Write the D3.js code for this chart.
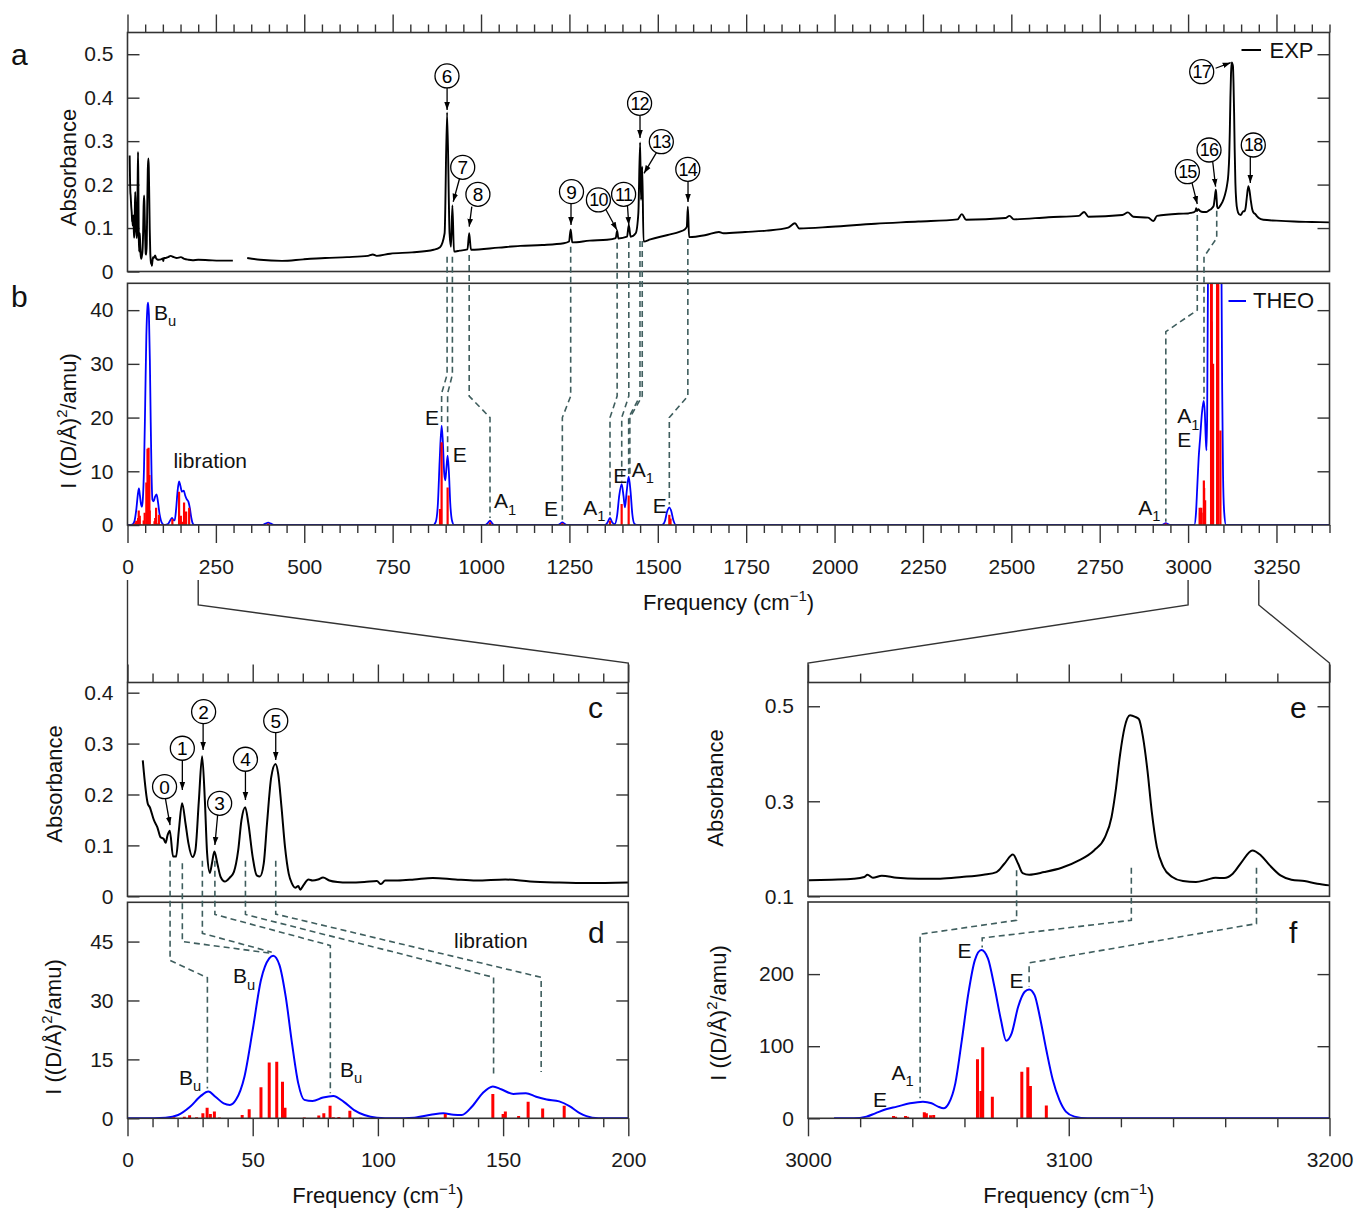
<!DOCTYPE html>
<html>
<head>
<meta charset="utf-8">
<script src="https://cdn.jsdelivr.net/npm/d3@7"></script>
<style>
html,body{margin:0;padding:0;background:#fff;}
svg{display:block;}
</style>
</head>
<body>
<svg id="chart" width="1359" height="1209"></svg>
<script>
// ================= DATA =================
// Experimental absorbance spectrum [frequency cm-1, absorbance]
const expLowRegion = [[6.1,0.267],[8.1,0.182],[8.9,0.175],[10.6,0.149],[11.9,0.136],[13.2,0.116],[14.4,0.113],[15.2,0.105],[16.0,0.12],[16.9,0.129],[18.2,0.078],[19.4,0.078],[20.5,0.129],[21.8,0.183],[23.2,0.142],[24.3,0.105],[26.0,0.077],[27.1,0.09],[28.5,0.188],[29.8,0.275],[30.9,0.188],[31.8,0.084],[32.9,0.046],[33.7,0.064],[34.7,0.088],[35.9,0.064],[37.2,0.038],[38.9,0.029],[40.9,0.037],[42.5,0.048],[44.2,0.09],[45.5,0.149],[47.0,0.175],[48.3,0.142],[50.0,0.077],[51.6,0.041],[52.9,0.039],[54.4,0.064],[55.7,0.142],[57.4,0.234],[59.1,0.26],[60.2,0.24],[61.5,0.175],[62.9,0.097],[64.4,0.044],[65.7,0.025],[67.0,0.017],[68.2,0.02],[69.0,0.013],[70.3,0.022],[72.3,0.033],[73.9,0.031],[76.1,0.033],[78.1,0.037],[80.6,0.031],[83.9,0.028],[88.0,0.027],[94.6,0.028],[99.6,0.030],[101.2,0.024],[102.9,0.031],[107.9,0.031],[114.5,0.033],[121.9,0.036],[131.0,0.033],[139.3,0.031],[150.9,0.033],[160.8,0.029],[172.4,0.027],[184.0,0.026],[200,0.027]];
const expMidRegion = [[230,0.026],[260,0.025],[298,0.025],[318,null],[338.6,0.031],[375,0.027],[437,0.0245],[498,0.028],[559,0.031],[621,0.033],[680,0.036],[694,0.039],[705,0.036],[743,0.041],[805,0.044],[866,0.050],[884,0.056],[897,0.088],[904,0.366],[911,0.088],[915,0.057],[919,0.152],[923.5,0.046],[939.6,0.048],[961.6,0.051],[966.5,0.088],[971.5,0.050],[1050,0.055],[1111,0.059],[1173,0.061],[1234,0.065],[1249,0.069],[1253.6,0.097],[1258,0.067],[1307.6,0.071],[1356.6,0.073],[1381,0.077],[1385,0.094],[1388.5,0.076],[1413,0.080],[1418,0.107],[1423,0.080],[1437.5,0.088],[1445,0.134],[1450,0.297],[1452.5,0.165],[1456,0.241],[1459.6,0.069],[1479,0.074],[1528,0.084],[1563,0.092],[1575,0.096],[1582,0.103],[1585,0.149],[1588.5,0.079],[1636,0.084],[1673,0.091],[1685.6,0.088],[1747,0.091],[1808,0.094],[1869,0.101],[1888,0.111],[1900,0.099],[1992,0.103],[2115,0.110],[2237,0.115],[2348,0.120],[2360,0.132],[2372,0.119],[2483,0.123],[2495,0.128],[2507,0.120],[2605,0.125],[2691,0.128],[2706,0.137],[2718,0.126],[2814,0.130],[2830,0.136],[2845,0.126],[2887,0.124],[2902,0.116],[2912,0.128],[2973,0.133]];
const expHighRegion = [[3000.3,0.1336],[3009.1,0.135],[3017.5,0.137],[3021.6,0.1406],[3022.8,0.1455],[3024.9,0.139],[3028.3,0.1434],[3034.1,0.139],[3042.4,0.137],[3050.7,0.137],[3059,0.1406],[3067.3,0.1455],[3072.3,0.151],[3075.3,0.1685],[3078.6,0.188],[3080.6,0.1685],[3082.3,0.149],[3084.8,0.1455],[3090.6,0.151],[3097.3,0.160],[3103.9,0.1755],[3109.7,0.1965],[3113.9,0.2245],[3116.4,0.2664],[3118,0.3224],[3119.7,0.399],[3121.4,0.455],[3123.5,0.481],[3125.5,0.4776],[3126.9,0.4727],[3128.5,0.434],[3130.2,0.364],[3131.8,0.280],[3133.8,0.2035],[3136.3,0.1615],[3139.7,0.1406],[3143.8,0.132],[3148.8,0.130],[3153,0.135],[3156.3,0.139],[3159.6,0.1385],[3162.9,0.1476],[3166.3,0.172],[3170.4,0.1965],[3173.7,0.186],[3177.1,0.165],[3181.2,0.144],[3185.4,0.135],[3190.4,0.132],[3195.3,0.1266],[3200,0.123]];
const expTailRegion = [[3213,0.119],[3250,0.117],[3300,0.115],[3350,0.114],[3400,0.113]];

// Theoretical broadened spectrum [frequency, intensity (D/Å)^2/amu]
const theoLowRegion = [[0,0],[10.3,0.03],[15.2,0.15],[20.2,0.85],[25.1,3.0],[29.3,5.7],[32.3,6.8],[35.1,5.5],[38.4,3.8],[40.9,3.4],[43.3,4.7],[46.7,10.6],[50,22.5],[53.3,35.2],[56.6,40.7],[58.2,41.4],[60.7,39],[63.2,30.9],[65.7,19.1],[68.2,8.9],[70.6,4.7],[73.9,4.4],[78.1,5.3],[82.2,5.7],[86.4,4.2],[90.5,2.1],[94.6,0.85],[99.6,0.17],[106.2,0],[114.5,0.17],[121.1,0.9],[126.1,1.3],[130.2,0.9],[133.5,0.85],[137.6,3],[141.8,6.4],[145.9,8.1],[149.2,7.4],[154.1,6.2],[159.1,6.4],[163.2,5.5],[167.4,4.8],[172.4,4.3],[176.5,3.1],[180.6,1.3],[185.6,0.17],[190.6,0],[200,0]];
const theoMidRegion = [[380,0],[390,0.25],[398,0.45],[406,0.25],[416,0],[864,0],[872,0.6],[878,4],[883,12],[888.5,18.5],[892,15.5],[896,9.5],[899,8.3],[902,10.5],[905.5,12.9],[909,10],[913,4],[918,0.8],[924,0],[1012,0],[1019,0.35],[1025.4,0.8],[1031,0.35],[1038,0],[1217,0],[1224,0.25],[1230,0.5],[1236,0.25],[1243,0],[1350,0],[1358,0.5],[1364.8,1.3],[1371,0.5],[1378,0.15],[1385,1.8],[1391,5.5],[1397.8,7.6],[1403,5.4],[1407,3.3],[1412,6.2],[1417.6,9.0],[1423,6.2],[1428,2],[1434,0.2],[1440,0],[1512,0],[1520,0.7],[1526,2.4],[1532.6,3.3],[1538,2.6],[1544,0.9],[1552,0],[2925,0],[2931,0.15],[2937,0.35],[2943,0.15],[2950,0]];
const theoHighRegion = [[3010,0],[3017.5,0],[3022.4,2.3],[3025.8,6.9],[3029.9,12.5],[3034.1,16.2],[3039.1,20.8],[3044.1,23.1],[3047.4,20.8],[3049.9,16.2],[3052,13.9],[3054,20.8],[3056.5,48.5],[3059,108.5],[3061.5,173.2],[3064,219.4],[3066.5,233.3],[3069,221.7],[3071.5,182.4],[3074,136.3],[3076,107.6],[3078.1,117.8],[3080.6,154.7],[3083.1,175.5],[3084.8,178.8],[3086.9,170.9],[3088.9,140.9],[3091.4,94.7],[3093.9,53.1],[3096.4,25.4],[3098.9,9.2],[3102.2,2.3],[3107.2,0],[3200,0],[3400,0]];

// Calculated normal modes (stick spectrum) [frequency, intensity]
const stickModes = [[18.5,0.25],[22.7,0.4],[24.8,0.8],[27.6,0.25],[30.1,1.3],[31.8,2.7],[33.1,1.1],[34.7,1.7],[36.7,0.2],[45.8,0.85],[48.6,2.3],[53.3,7.9],[56.6,14.2],[59.6,14.4],[61.9,9.3],[62.9,2.7],[70.6,0.2],[76.4,0.7],[78.4,1.3],[80.9,3.2],[82.2,0.25],[84.4,0.3],[88.8,1.9],[93,0.15],[96.3,0.1],[106.2,0.1],[126.9,1.1],[145.9,6.2],[150,1.1],[150.9,1.7],[156.2,0.6],[160,4.2],[165.8,2.5],[174.4,3.2],[398,0.3],[884,3],[888.5,15.4],[905.5,7.0],[1025.4,0.5],[1230,0.35],[1364.8,0.8],[1397.8,3.9],[1417.6,5.5],[1532.6,1.9],[1536,1.2],[2937,0.3],[3032.8,3.2],[3033.6,2.3],[3037.4,3.2],[3038.2,2.3],[3044.6,8.3],[3045.4,6.9],[3047,4.2],[3048.2,4.6],[3065,81.8],[3066.3,37.9],[3067,98.4],[3070.7,30],[3082,64.7],[3084.3,70.7],[3085.3,44.8],[3091.4,17.6]];

// Tick values / labels
const freqMajorFull = [0,250,500,750,1000,1250,1500,1750,2000,2250,2500,2750,3000,3250];
const freqMajorLow = [0,50,100,150,200];
const freqMajorHigh = [3000,3100,3200];
const absTicksA = [0,0.1,0.2,0.3,0.4,0.5];
const intTicksB = [0,10,20,30,40];
const absTicksC = [0,0.1,0.2,0.3,0.4];
const intTicksD = [0,15,30,45];
const absTicksE = [0.1,0.3,0.5];
const intTicksF = [0,100,200];

// Peak annotations: [label, circle freq, circle value, arrow start freq, value, arrow end freq, value]
const peakMarksA = [
 ['6',903.7,0.450,904,0.4223,904,0.3717],
 ['7',948.2,0.2398,939.7,0.2152,921.3,0.1606],
 ['8',991.2,0.1777,973.9,0.1491,966.5,0.1031],
 ['9',1255.9,0.1837,1254.5,0.1577,1254.5,0.107],
 ['10',1332,0.1646,1350.7,0.1461,1384.6,0.0955],
 ['11',1403.3,0.1777,1414.3,0.1507,1418,0.107],
 ['12',1448.5,0.3871,1449.7,0.3579,1449.7,0.3072],
 ['13',1510,0.2987,1497.8,0.2757,1461,0.226],
 ['14',1584.9,0.2352,1585.5,0.2083,1585.5,0.16],
 ['15',2998,0.2297,3010.2,0.2067,3026,0.1553],
 ['16',3059.2,0.2796,3069.1,0.2566,3077.8,0.1952],
 ['17',3038.5,0.4598,3077.8,0.4677,3120.5,0.4805],
 ['18',3184.4,0.2911,3176,0.2635,3176,0.2037]
];
const peakMarksC = [
 ['0',14.8,0.2153,15,0.1957,17,0.14],
 ['1',21.9,0.2908,21.9,0.2678,21.9,0.2089],
 ['2',30.4,0.3627,30.2,0.3385,30.2,0.2874],
 ['3',36.8,0.1827,36,0.1597,34.9,0.1008],
 ['4',47.1,0.2692,47.1,0.2462,47.1,0.1892],
 ['5',59.2,0.345,59.2,0.3208,59.2,0.2678]
];
// Mode symmetry labels: [main, subscript, freq, value]
const modeLabelsB = [['B','u',75,38.2],['E','',841.5,18.6],['E','',919.9,11.8],['A','1',1036.7,3.1],['E','',1178,1.68],['A','1',1289,1.86],['E','',1374,7.9],['A','1',1426,9.0],['E','',1485.6,2.2],['A','1',2859,1.86],['A','1',2969.5,18.9],['E','',2969.5,14.6]];
const modeLabelsD = [['B','u',20.6,8.5],['B','u',42.1,34.4],['B','u',84.9,10.6]];
const modeLabelsF = [['E','',3024.9,16.1],['A','1',3032,53],['E','',3057.3,221.9],['E','',3077.3,180.3]];

// Assignment links (dashed): sequences of [freq, panel, value]
const linksTop = [
 [[904,'a',0.034],[904,'b',28],[888.5,'b',24.5],[888.5,'b',19.2]],
 [[919,'a',0.034],[919,'b',28],[905.5,'b',24.5],[905.5,'b',13.6]],
 [[966.5,'a',0.038],[966.5,'b',24],[1025.4,'b',20],[1025.4,'b',1.3]],
 [[1253.6,'a',0.057],[1253.6,'b',24],[1230,'b',20],[1230,'b',1.0]],
 [[1385,'a',0.066],[1385,'b',24],[1364.8,'b',20],[1364.8,'b',1.8]],
 [[1418,'a',0.068],[1418,'b',24],[1398,'b',20],[1398,'b',8.1]],
 [[1449.6,'a',0.07],[1449.6,'b',24],[1417.6,'b',20],[1417.6,'b',9.5]],
 [[1456,'a',0.07],[1456,'b',24],[1421,'b',20],[1421,'b',9.2]],
 [[1585,'a',0.075],[1585,'b',24],[1532.6,'b',20],[1532.6,'b',3.8]],
 [[3026,'a',0.13],[3026,'b',40],[2937,'b',36],[2937,'b',0.6]],
 [[3081,'a',0.14],[3081,'a',0.077],[3045,'a',0.034],[3045,'b',23.4]]
];
const linksLow = [
 [[17,'c',0.07],[17,'d',40.2],[31.9,'d',35.8],[31.9,'d',7.6]],
 [[21.9,'c',0.065],[21.9,'d',45],[57.6,'d',42]],
 [[29.9,'c',0.07],[29.9,'d',47.1],[57.6,'d',42.3]],
 [[34.9,'c',0.07],[34.9,'d',51.9],[81,'d',44],[81,'d',6.4]],
 [[47.1,'c',0.07],[47.1,'d',51.9],[146.2,'d',35.9],[146.2,'d',11]],
 [[59.2,'c',0.07],[59.2,'d',52],[165.2,'d',35.9],[165.2,'d',11.8]]
];
const linksHigh = [
 [[3080,'e',0.155],[3080,'f',274.7],[3043,'f',255.3],[3043,'f',27.7]],
 [[3124,'e',0.16],[3124,'f',274.7],[3066.8,'f',250],[3066.8,'f',236.8]],
 [[3172,'e',0.16],[3172,'f',270],[3084.8,'f',215.5],[3084.8,'f',182.3]]
];

// ================= LAYOUT =================
const FONT = "'Liberation Sans', Arial, Helvetica, sans-serif";
const AX = '#333';
const BLUE = '#0000ff', RED = '#ff0000', DASH = '#3f5e5e';
const P = {
 a:{x0:127.5,x1:1329.5,y0:32.5,y1:271.5,xd:[0,3400],yd:[0,0.55]},
 b:{x0:127.5,x1:1329.5,y0:283.3,y1:525,xd:[0,3400],yd:[0,45]},
 c:{x0:127.5,x1:628.3,y0:682.5,y1:896.3,xd:[0,200],yd:[0,0.42]},
 d:{x0:127.5,x1:628.3,y0:902.3,y1:1118.3,xd:[0,200],yd:[0,55]},
 e:{x0:808,x1:1329.5,y0:682.5,y1:896.3,xd:[3000,3200],yd:[0.1,0.55]},
 f:{x0:808,x1:1329.5,y0:902,y1:1118.3,xd:[3000,3200],yd:[0,300]}
};
Object.values(P).forEach(p=>{
 p.x = d3.scaleLinear().domain(p.xd).range([p.x0,p.x1]);
 p.y = d3.scaleLinear().domain(p.yd).range([p.y1,p.y0]);
});

const svg = d3.select('#chart');
svg.append('rect').attr('width',1359).attr('height',1209).attr('fill','#fff');
const defs = svg.append('defs');
Object.entries(P).forEach(([k,p])=>{
 defs.append('clipPath').attr('id','clip-'+k).append('rect')
  .attr('x',p.x0).attr('y',p.y0).attr('width',p.x1-p.x0).attr('height',p.y1-p.y0);
});
defs.append('marker').attr('id','arrow').attr('viewBox','0 0 10 10')
 .attr('refX',10).attr('refY',5).attr('markerWidth',8).attr('markerHeight',8)
 .attr('markerUnits','userSpaceOnUse').attr('orient','auto')
 .append('path').attr('d','M0,1.5 L10,5 L0,8.5 Z').attr('fill','#000');

// ---- helpers ----
function richText(sel, parts, size){
 let off = 0;
 parts.forEach(([s,kind])=>{
  const ts = sel.append('tspan').text(s);
  let target = 0;
  if(kind==='sup'){ target = -0.42*size; ts.attr('font-size', size*0.68); }
  else if(kind==='sub'){ target = 0.3*size; ts.attr('font-size', size*0.7); }
  if(target-off!==0) ts.attr('dy', target-off);
  off = target;
 });
}
function axis(p, orient, vals, len, fmt, pad){
 const g = svg.append('g').attr('color',AX);
 let ax;
 if(orient==='top'){ax=d3.axisTop(p.x); g.attr('transform',`translate(0,${p.y0})`);}
 if(orient==='bottom'){ax=d3.axisBottom(p.x); g.attr('transform',`translate(0,${p.y1})`);}
 if(orient==='left'){ax=d3.axisLeft(p.y); g.attr('transform',`translate(${p.x0},0)`);}
 if(orient==='right'){ax=d3.axisRight(p.y); g.attr('transform',`translate(${p.x1},0)`);}
 ax.tickValues(vals).tickSize(len).tickPadding(pad||0).tickFormat(fmt||(()=>''));
 g.call(ax);
 g.select('.domain').remove();
 g.selectAll('line').attr('stroke-width',1.4);
 g.selectAll('text').attr('font-size',21).attr('font-family',FONT).attr('fill','#1a1a1a');
 return g;
}
function frame(p){
 svg.append('rect').attr('x',p.x0).attr('y',p.y0).attr('width',p.x1-p.x0).attr('height',p.y1-p.y0)
  .attr('fill','none').attr('stroke',AX).attr('stroke-width',1.6);
}
const minors = (a,b,step,majors)=>d3.range(a,b+0.001,step).map(v=>+v.toFixed(6)).filter(v=>!majors.some(m=>Math.abs(m-v)<1e-6));
const f1 = v=> v===0?'0':v.toFixed(1);
const f0 = v=> String(v);

// ---- axes ----
// a
axis(P.a,'top',freqMajorFull,18);
axis(P.a,'top',minors(0,3400,50,freqMajorFull),8);
axis(P.a,'left',absTicksA,-12,f1,14);
axis(P.a,'right',absTicksA.filter(v=>v>0),-12);
// b
axis(P.b,'bottom',freqMajorFull,18,f0,16);
axis(P.b,'bottom',minors(0,3400,50,freqMajorFull),8);
axis(P.b,'left',intTicksB,-12,f0,14);
axis(P.b,'right',intTicksB.filter(v=>v>0),-12);
// c
axis(P.c,'top',freqMajorLow,18);
axis(P.c,'top',minors(0,200,10,freqMajorLow),9);
axis(P.c,'left',absTicksC,-12,f1,14);
axis(P.c,'right',absTicksC.filter(v=>v>0),-12);
// d
axis(P.d,'bottom',freqMajorLow,18,f0,16);
axis(P.d,'bottom',minors(0,200,10,freqMajorLow),9);
axis(P.d,'left',intTicksD,-12,f0,14);
axis(P.d,'right',intTicksD.filter(v=>v>0),-12);
// e
axis(P.e,'top',freqMajorHigh,18);
axis(P.e,'top',minors(3000,3200,20,freqMajorHigh),9);
axis(P.e,'left',absTicksE,-12,f1,14);
axis(P.e,'right',absTicksE.filter(v=>v>0.1),-12);
// f
axis(P.f,'bottom',freqMajorHigh,18,f0,16);
axis(P.f,'bottom',minors(3000,3200,20,freqMajorHigh),9);
axis(P.f,'left',intTicksF,-12,f0,14);
axis(P.f,'right',intTicksF.filter(v=>v>0),-12);

// ---- data marks ----
const expAll = expLowRegion.concat(expMidRegion, expHighRegion, expTailRegion);
const theoAll = theoLowRegion.concat(theoMidRegion, theoHighRegion);

function drawLine(p, key, data, color, width){
 const line = d3.line().defined(d=>d[1]!=null)
  .x(d=>p.x(d[0])).y(d=>p.y(d[1])).curve(d3.curveMonotoneX);
 svg.append('path').datum(data).attr('clip-path',`url(#clip-${key})`)
  .attr('d',line).attr('fill','none').attr('stroke',color).attr('stroke-width',width)
  .attr('stroke-linejoin','round');
}
function drawSticks(p, key, data, width){
 svg.append('g').attr('clip-path',`url(#clip-${key})`).selectAll('line').data(data).join('line')
  .attr('x1',d=>p.x(d[0])).attr('x2',d=>p.x(d[0]))
  .attr('y1',p.y(0)).attr('y2',d=>p.y(d[1]))
  .attr('stroke',RED).attr('stroke-width',width);
}

drawLine(P.a,'a',expAll,'#000',1.9);
drawLine(P.b,'b',theoAll,BLUE,1.8);
drawSticks(P.b,'b',stickModes,2.2);
drawLine(P.c,'c',expLowRegion,'#000',2);
drawLine(P.d,'d',theoLowRegion,BLUE,2);
drawSticks(P.d,'d',stickModes.filter(d=>d[0]<=200),3);
drawLine(P.e,'e',expHighRegion,'#000',2);
drawLine(P.f,'f',theoHighRegion,BLUE,2);
drawSticks(P.f,'f',stickModes.filter(d=>d[0]>=3000&&d[0]<=3200),3);

['a','b','c','d','e','f'].forEach(k=>frame(P[k]));

// ---- zoom connectors ----
const zoomLinks = [
 [[P.b.x(0),580],[P.c.x0,P.c.y0]],
 [[P.b.x(200),580],[P.b.x(200),605],[P.c.x1,663],[P.c.x1,P.c.y0]],
 [[P.b.x(3000),580],[P.b.x(3000),605],[P.e.x0,663],[P.e.x0,P.e.y0]],
 [[P.b.x(3200),580],[P.b.x(3200),605],[P.e.x1,663],[P.e.x1,P.e.y0]]
];
zoomLinks.forEach(pts=>{
 svg.append('path').attr('d',d3.line()(pts)).attr('fill','none').attr('stroke',AX).attr('stroke-width',1.4);
});

// ---- dashed assignment links ----
function linkPath(seq){
 return d3.line()(seq.map(([f,k,v])=>[P[k].x(f),P[k].y(v)]));
}
linksTop.concat(linksLow,linksHigh).forEach(seq=>{
 svg.append('path').attr('d',linkPath(seq)).attr('fill','none')
  .attr('stroke',DASH).attr('stroke-width',1.6).attr('stroke-dasharray','6,4');
});

// ---- peak circles + arrows ----
function peakMarks(p, list){
 list.forEach(([lab,cf,cv,sf,sv,ef,ev])=>{
  svg.append('line').attr('x1',p.x(sf)).attr('y1',p.y(sv)).attr('x2',p.x(ef)).attr('y2',p.y(ev))
   .attr('stroke','#000').attr('stroke-width',1.3).attr('marker-end','url(#arrow)');
  svg.append('circle').attr('cx',p.x(cf)).attr('cy',p.y(cv)).attr('r',12)
   .attr('fill','#fff').attr('stroke','#000').attr('stroke-width',1.3);
  svg.append('text').attr('x',p.x(cf)).attr('y',p.y(cv)).attr('dy','0.36em')
   .attr('text-anchor','middle').attr('font-family',FONT)
   .attr('font-size', lab.length>1?18:19).attr('fill','#000')
   .attr('letter-spacing', lab.length>1?-0.8:0).text(lab);
 });
}
peakMarks(P.a, peakMarksA);
peakMarks(P.c, peakMarksC);

// ---- mode labels ----
function modeLabels(p, list){
 list.forEach(([m,s,f,v])=>{
  const t = svg.append('text').attr('x',p.x(f)).attr('y',p.y(v))
   .attr('font-family',FONT).attr('font-size',21).attr('fill','#111');
  const parts = [[m,'']];
  if(s) parts.push([s,'sub']);
  richText(t, parts, 21);
 });
}
modeLabels(P.b, modeLabelsB);
modeLabels(P.d, modeLabelsD);
modeLabels(P.f, modeLabelsF);
svg.append('text').attr('x',P.b.x(130)).attr('y',P.b.y(10.6)).attr('font-family',FONT)
 .attr('font-size',21).attr('fill','#111').text('libration');
svg.append('text').attr('x',P.d.x(130.4)).attr('y',P.d.y(43.4)).attr('font-family',FONT)
 .attr('font-size',21).attr('fill','#111').text('libration');

// ---- legends ----
svg.append('line').attr('x1',1241.5).attr('x2',1261).attr('y1',50).attr('y2',50).attr('stroke','#000').attr('stroke-width',2);
svg.append('text').attr('x',1269.5).attr('y',58.3).attr('font-family',FONT).attr('font-size',22).attr('fill','#111').text('EXP');
svg.append('line').attr('x1',1228.5).attr('x2',1246).attr('y1',301).attr('y2',301).attr('stroke',BLUE).attr('stroke-width',2);
svg.append('text').attr('x',1253).attr('y',308.3).attr('font-family',FONT).attr('font-size',22).attr('fill','#111').text('THEO');

// ---- panel letters ----
[['a',11,65],['b',11,307],['c',588,718],['d',588,943],['e',1290,718],['f',1289,943]].forEach(([l,x,y])=>{
 svg.append('text').attr('x',x).attr('y',y).attr('font-family',FONT).attr('font-size',30).attr('fill','#111').text(l);
});

// ---- axis titles ----
function xTitle(cx, y){
 const t = svg.append('text').attr('x',cx).attr('y',y).attr('text-anchor','middle')
  .attr('font-family',FONT).attr('font-size',22).attr('fill','#111');
 richText(t, [['Frequency (cm',''],['\u22121','sup'],[')','']], 22);
}
xTitle((P.b.x0+P.b.x1)/2, 610);
xTitle((P.d.x0+P.d.x1)/2, 1203);
xTitle((P.f.x0+P.f.x1)/2, 1203);
function yTitle(x, cy, parts){
 const t = svg.append('text').attr('transform',`translate(${x},${cy}) rotate(-90)`)
  .attr('text-anchor','middle').attr('font-family',FONT).attr('font-size',22).attr('fill','#111');
 richText(t, parts, 22);
}
const absT = [['Absorbance','']];
const intT = [['I ((D/Å)',''],['2','sup'],['/amu)','']];
yTitle(76, 167.5, absT);
yTitle(76, 421, intT);
yTitle(62, 784, absT);
yTitle(61, 1027, intT);
yTitle(723, 788, absT);
yTitle(726, 1013, intT);
</script>
</body>
</html>
